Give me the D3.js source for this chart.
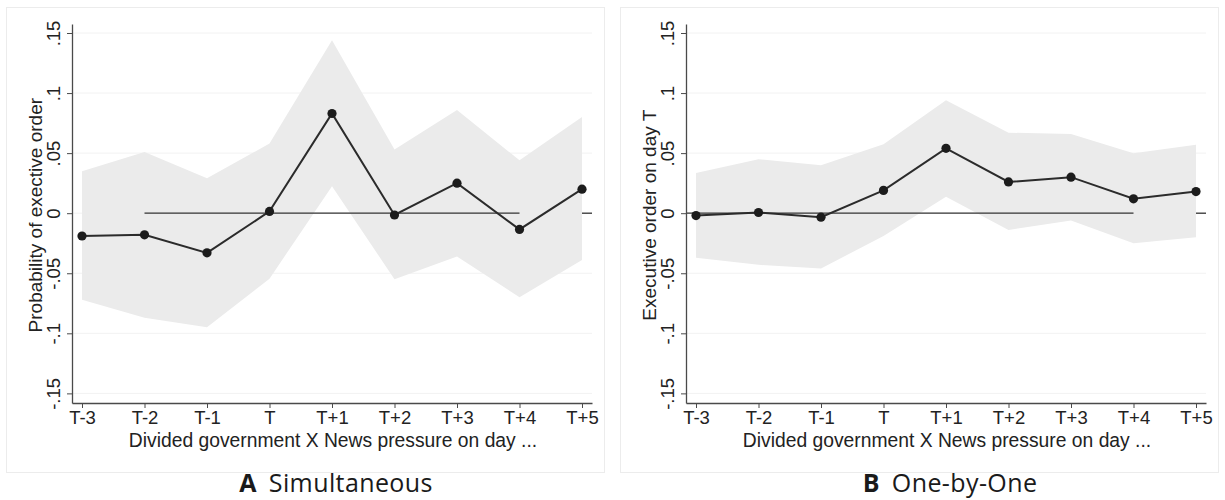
<!DOCTYPE html>
<html>
<head>
<meta charset="utf-8">
<script src="https://cdn.jsdelivr.net/npm/d3@7"></script>
<style>
  html, body { margin: 0; padding: 0; background: #fff; }
  svg { display: block; }
</style>
</head>
<body>
<div id="chart"></div>
<script>
// event days on the x axis
const days = ["T-3", "T-2", "T-1", "T", "T+1", "T+2", "T+3", "T+4", "T+5"];

// panel A: simultaneous model
const simEst = [-0.019, -0.018, -0.033, 0.0015, 0.083, -0.0015, 0.025, -0.0135, 0.020];
const simHi  = [0.035, 0.051, 0.029, 0.058, 0.144, 0.053, 0.086, 0.044, 0.080];
const simLo  = [-0.072, -0.087, -0.095, -0.0545, 0.0225, -0.055, -0.036, -0.070, -0.039];

// panel B: one-by-one models
const obEst = [-0.002, 0.0006, -0.0033, 0.019, 0.054, 0.026, 0.030, 0.012, 0.018];
const obHi  = [0.0335, 0.045, 0.040, 0.0575, 0.094, 0.067, 0.066, 0.050, 0.057];
const obLo  = [-0.037, -0.043, -0.046, -0.019, 0.0136, -0.014, -0.006, -0.025, -0.020];

// y ticks
const yTicks = [-0.15, -0.1, -0.05, 0, 0.05, 0.1, 0.15];
const yTickLabels = ["-.15", "-.1", "-.05", "0", ".05", ".1", ".15"];

// visible pieces of the reference line at zero (null = plot edge)
const zeroSegA = [["T-2", "T+4"], ["T+5", null]];
const zeroSegB = [[null, "T+4"], ["T+5", null]];

const W = 1225, H = 500;
const svg = d3.select("#chart").append("svg")
  .attr("width", W).attr("height", H);

const axisFont = "'Liberation Sans', Arial, sans-serif";

function drawPanel(dx, est, lo, hi, zeroSeg, yTitle, capLetter, capText) {
  const left = 72, right = 592, top = 24, bottom = 403;

  const g = svg.append("g").attr("transform", `translate(${dx},0)`);

  // outer frame
  g.append("rect")
    .attr("x", 6.5).attr("y", 7.5)
    .attr("width", 598).attr("height", 465)
    .attr("fill", "none").attr("stroke", "#ececec");

  const x = d3.scalePoint().domain(days).range([left, right]).padding(0.16);
  const y = d3.scaleLinear().domain([-0.158, 0.1575]).range([bottom, top]);

  const rows = days.map((d, i) => ({ day: d, est: est[i], lo: lo[i], hi: hi[i] }));

  // grid lines
  g.append("g").selectAll("line")
    .data(yTicks)
    .join("line")
      .attr("x1", left).attr("x2", right)
      .attr("y1", d => y(d)).attr("y2", d => y(d))
      .attr("stroke", "#f2f2f2").attr("stroke-width", 1);

  // confidence band
  const area = d3.area()
    .x(d => x(d.day))
    .y0(d => y(d.lo))
    .y1(d => y(d.hi));
  g.append("path")
    .datum(rows)
    .attr("d", area)
    .attr("fill", "#ebebeb");

  // zero reference line
  g.append("g").selectAll("line")
    .data(zeroSeg)
    .join("line")
      .attr("x1", d => d[0] === null ? left : x(d[0]))
      .attr("x2", d => d[1] === null ? right : x(d[1]))
      .attr("y1", y(0)).attr("y2", y(0))
      .attr("stroke", "#333").attr("stroke-width", 1.3);

  // estimate line + markers
  const line = d3.line().x(d => x(d.day)).y(d => y(d.est));
  g.append("path")
    .datum(rows)
    .attr("d", line)
    .attr("fill", "none")
    .attr("stroke", "#2b2b2b")
    .attr("stroke-width", 2);

  g.append("g").selectAll("circle")
    .data(rows)
    .join("circle")
      .attr("cx", d => x(d.day))
      .attr("cy", d => y(d.est))
      .attr("r", 4.6)
      .attr("fill", "#1c1c1c");

  // x axis
  const xAxis = g.append("g")
    .attr("transform", `translate(0,${bottom})`)
    .call(d3.axisBottom(x).tickSize(5).tickSizeOuter(0).tickPadding(3));
  xAxis.select(".domain").attr("stroke", "#4a4a4a").attr("stroke-width", 1.3);
  xAxis.selectAll(".tick line").attr("stroke", "#4a4a4a");
  xAxis.selectAll(".tick text")
    .attr("font-family", axisFont).attr("font-size", 18.5).attr("fill", "#222");

  // y axis
  const yAxis = g.append("g")
    .attr("transform", `translate(${left},0)`)
    .call(d3.axisLeft(y).tickValues(yTicks)
      .tickFormat((d, i) => yTickLabels[i])
      .tickSize(5).tickSizeOuter(0));
  yAxis.select(".domain").attr("stroke", "#4a4a4a").attr("stroke-width", 1.3);
  yAxis.selectAll(".tick line").attr("stroke", "#4a4a4a");
  yAxis.selectAll(".tick text")
    .attr("font-family", axisFont).attr("font-size", 18.5).attr("fill", "#222")
    .attr("x", null).attr("dy", null)
    .attr("text-anchor", "middle")
    .attr("transform", "translate(-12,0) rotate(-90)");

  // axis titles
  g.append("text")
    .attr("x", (left + right) / 2 + 1).attr("y", 447)
    .attr("text-anchor", "middle")
    .attr("font-family", axisFont).attr("font-size", 19.3).attr("fill", "#222")
    .text("Divided government X News pressure on day ...");

  g.append("text")
    .attr("transform", `translate(42,${y(0) + 2}) rotate(-90)`)
    .attr("text-anchor", "middle")
    .attr("font-family", axisFont).attr("font-size", 19).attr("fill", "#222")
    .text(yTitle);

  // caption
  const cap = g.append("text")
    .attr("x", (left + right) / 2 + 4).attr("y", 492)
    .attr("text-anchor", "middle")
    .attr("font-family", "'Open Sans', 'Noto Sans', sans-serif")
    .attr("font-size", 25).attr("letter-spacing", 0.4).attr("fill", "#1a1a1a");
  cap.append("tspan").attr("font-weight", "bold").text(capLetter);
  cap.append("tspan").attr("dx", 12).text(capText);
}

drawPanel(0, simEst, simLo, simHi, zeroSegA, "Probability of exective order", "A", "Simultaneous");
drawPanel(614, obEst, obLo, obHi, zeroSegB, "Executive order on day T", "B", "One-by-One");
</script>
</body>
</html>
